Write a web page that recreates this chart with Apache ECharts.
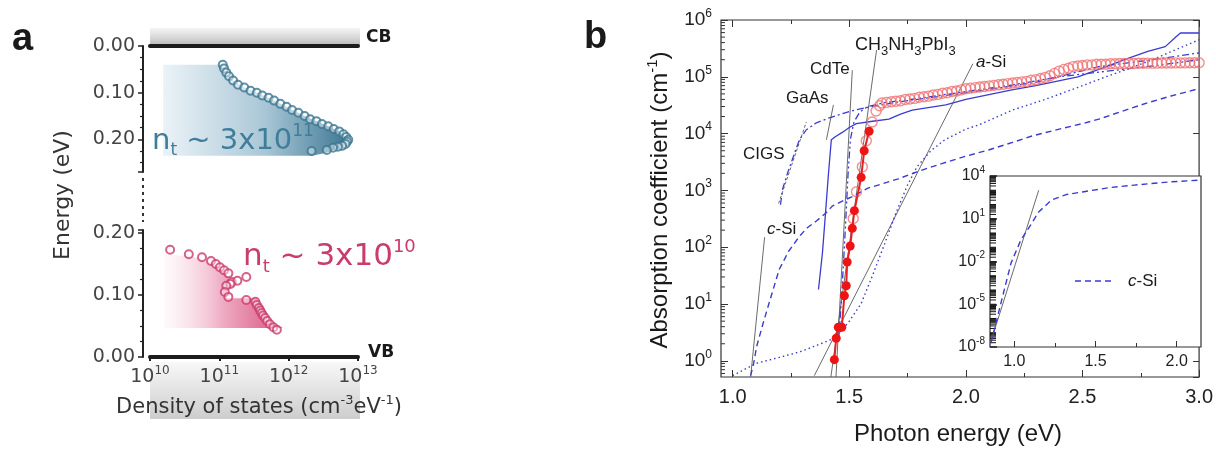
<!DOCTYPE html>
<html>
<head>
<meta charset="utf-8">
<script src="https://cdn.jsdelivr.net/npm/echarts@6/dist/echarts.min.js"></script>
<style>
  html, body { margin: 0; padding: 0; background: #fff; }
  #chart { width: 1216px; height: 450px; }
</style>
</head>
<body>
<div id="chart"></div>
<script>
// ---------- Panel a: trap density of states ----------
// [density of states (cm^-3 eV^-1), energy from band edge (eV)]
const electronTraps = [
  [1.12e11,0.040],[1.17e11,0.048],[1.26e11,0.057],[1.38e11,0.065],[1.58e11,0.074],[1.86e11,0.083],
  [2.29e11,0.089],[2.82e11,0.096],[3.47e11,0.100],[4.17e11,0.106],[5.13e11,0.111],[6.17e11,0.117],
  [7.59e11,0.124],[9.33e11,0.130],[1.12e12,0.137],[1.38e12,0.143],[1.70e12,0.150],[2.04e12,0.157],
  [2.51e12,0.161],[3.02e12,0.167],[3.72e12,0.172],[4.47e12,0.178],[5.37e12,0.183],[6.17e12,0.189],
  [6.76e12,0.195],[7.24e12,0.201],[6.92e12,0.205],[6.61e12,0.210],[5.89e12,0.214],[5.13e12,0.216],
  [4.37e12,0.218],[3.55e12,0.223],[2.14e12,0.225]
];
const electronShade = [
  [1.55e10,0.040],[1.12e11,0.040],[1.26e11,0.057],[1.58e11,0.074],[2.29e11,0.089],[3.47e11,0.100],
  [5.13e11,0.111],[7.59e11,0.124],[1.12e12,0.137],[1.70e12,0.150],[2.51e12,0.161],[3.72e12,0.172],
  [5.37e12,0.183],[6.76e12,0.195],[7.4e12,0.203],[6.6e12,0.212],[5.0e12,0.220],[3.6e12,0.228],
  [2.2e12,0.235],[1.55e10,0.235]
];
const holeTraps = [
  [1.95e10,0.173],[3.63e10,0.166],[5.62e10,0.161],[7.59e10,0.155],[8.91e10,0.150],[1.02e11,0.145],
  [1.17e11,0.140],[1.35e11,0.135],[1.51e11,0.121],[1.82e11,0.123],[2.45e11,0.129],[1.45e11,0.118],
  [1.26e11,0.115],[1.20e11,0.105],[1.35e11,0.097],[2.45e11,0.092],[3.31e11,0.089],[3.47e11,0.084],
  [3.72e11,0.079],[3.89e11,0.075],[4.07e11,0.071],[4.27e11,0.067],[4.57e11,0.063],[4.90e11,0.058],
  [5.37e11,0.053],[6.03e11,0.048],[6.76e11,0.044]
];
const holeShade = [
  [1.6e10,0.165],[3.6e10,0.163],[5.6e10,0.158],[8.9e10,0.148],[1.17e11,0.138],[1.35e11,0.128],
  [1.3e11,0.112],[1.3e11,0.095],[3.5e11,0.095],[4.0e11,0.075],[5.4e11,0.055],[8.3e11,0.047],
  [1.6e10,0.047]
];

// ---------- Panel b: absorption coefficient (cm^-1) vs photon energy (eV) ----------
const mapiEllipsometry = [
  [1.517,320],[1.531,950],[1.556,2600],[1.573,7500],[1.598,16000],[1.615,25000],[1.63,31000],
  [1.64,34700],[1.66,35500],[1.68,36300],[1.70,37200],[1.72,38000],[1.74,39800],[1.76,40700],
  [1.78,41700],[1.80,43600],[1.82,44700],[1.84,45700],[1.86,47900],[1.88,49000],[1.90,51300],
  [1.92,52500],[1.94,55000],[1.96,56200],[1.98,58900],[2.00,61700],[2.02,63100],[2.04,64600],
  [2.06,66100],[2.08,67600],[2.10,69200],[2.12,70800],[2.14,72400],[2.16,74100],[2.18,75900],
  [2.20,77600],[2.22,79400],[2.24,81300],[2.26,83200],[2.28,87100],[2.30,89100],[2.32,93300],
  [2.34,97700],[2.36,104700],[2.38,114800],[2.40,125900],[2.42,134900],[2.44,141300],[2.46,151400],
  [2.48,154900],[2.50,158500],[2.52,162200],[2.54,162200],[2.56,166000],[2.58,166000],[2.60,166000],
  [2.62,169800],[2.64,170000],[2.66,171000],[2.68,171000],[2.70,172000],[2.72,172000],[2.74,173000],
  [2.76,173000],[2.78,174000],[2.80,174000],[2.82,174000],[2.84,175000],[2.86,175000],[2.88,175000],
  [2.90,176000],[2.92,176000],[2.94,176000],[2.96,177000],[2.98,177000],[3.00,177000]
];
const mapiPDS = [
  [1.436,1.05],[1.444,2.5],[1.453,3.9],[1.468,3.9],[1.479,14],[1.487,21],[1.491,55],[1.504,105],
  [1.513,215],[1.522,440],[1.551,1700],[1.564,5000],[1.585,11000]
];
const gaAs = [
  [1.368,18],[1.385,80],[1.397,350],[1.41,1800],[1.423,7800],[1.44,8800],[1.47,10500],[1.50,12800],
  [1.53,15000],[1.60,16500],[1.67,18000],[1.72,22000],[1.77,26000],[1.914,32000],[2.0,40000],
  [2.197,59000],[2.3,70000],[2.48,100000],[2.6,150000],[2.68,200000],[2.78,280000],[2.855,340000],
  [2.9,500000],[2.92,590000],[3.0,590000]
];
const cdTe = [
  [1.455,2.5],[1.465,10],[1.475,50],[1.485,300],[1.495,2000],[1.505,8000],[1.52,16000],[1.545,24000],
  [1.58,30000],[1.65,35000],[1.8,42000],[2.0,55000],[2.2,72000],[2.4,100000],[2.6,125000],
  [2.8,155000],[3.0,200000]
];
const cigs = [
  [1.205,560],[1.214,1050],[1.235,2000],[1.256,3500],[1.286,7800],[1.316,11700],[1.359,15500],
  [1.415,19000],[1.5,24500],[1.585,29500],[1.714,36300],[1.9,46000],[2.1,60000],[2.3,80000],
  [2.57,151000],[2.8,200000],[3.0,263000]
];
const cSi = [
  [1.077,0.55],[1.09,0.9],[1.103,1.8],[1.13,4.5],[1.158,11],[1.18,22],[1.20,41],[1.24,85],[1.286,155],
  [1.32,220],[1.359,290],[1.40,400],[1.427,530],[1.47,650],[1.513,780],[1.58,1100],[1.64,1300],
  [1.71,1600],[1.80,2200],[1.90,3000],[2.00,4000],[2.10,5200],[2.20,7000],[2.28,9000],[2.40,12000],
  [2.50,15000],[2.57,18000],[2.66,24000],[2.78,35000],[2.88,46000],[3.0,62000]
];
const aSi = [
  [1.0,0.55],[1.1,0.9],[1.2,1.15],[1.29,1.45],[1.35,1.8],[1.43,2.45],[1.47,3.5],[1.5,5],[1.55,10],
  [1.6,32],[1.65,110],[1.7,400],[1.75,1250],[1.79,2600],[1.85,5000],[1.91,7800],[2.0,12000],
  [2.06,14500],[2.2,26000],[2.34,40000],[2.48,65000],[2.6,100000],[2.7,140000],[2.8,200000],
  [2.9,300000],[3.0,450000]
];
// exponential tail guides (thin grey lines)
const tailCSi  = [[1.077,0.52],[1.137,150]];
const tailASi  = [[1.35,0.55],[2.03,170000]];
const tailMapi = [[1.421,0.52],[1.617,295000]];
const tailCdTe = [[1.443,0.52],[1.513,130000]];
const tailGaAs = [[1.402,7800],[1.432,32000]];
const tailCigs = [[1.197,590],[1.316,16000]];
// inset: c-Si over a wider range
const cSiWide = [
  [0.856,1.9e-8],[0.92,1.6e-5],[0.98,8e-3],[1.04,0.32],[1.10,3.6],[1.15,30],[1.23,210],[1.32,500],
  [1.42,760],[1.58,1500],[1.74,2300],[1.95,3800],[2.15,5200]
];
const tailCSiWide = [[0.856,2.5e-8],[1.15,1000]];

const mainXMajor = [1.0, 1.5, 2.0, 2.5, 3.0];
const mainXMinor = [1.25, 1.75, 2.25, 2.75];
const insetXMajor = [1.0, 1.5, 2.0];
const insetXMinor = [1.25, 1.75];

const MAIN_X = [0.95, 3.0], MAIN_Y = [0.52, 1e6];
const INSET_X = [0.85, 2.15], INSET_Y = [1e-8, 1e4];

// log-axis minor tick values (2..9 per decade) and non-labelled decades
const mainMinorTicks = [];
for (let k = -1; k <= 5; k++) for (let m = 2; m <= 9; m++) {
  const v = m * Math.pow(10, k);
  if (v > MAIN_Y[0] && v < MAIN_Y[1]) mainMinorTicks.push(v);
}
const insetMinorTicks = [];
for (let k = -8; k <= 3; k++) for (let m = 1; m <= 9; m++) {
  const v = m * Math.pow(10, k);
  if (v > INSET_Y[0] && v < INSET_Y[1]) insetMinorTicks.push(v);
}

const BLUE = '#3b3bd0';
const GREY = '#5a5a5a';
const SANS = 'Liberation Sans';
const DV = 'DejaVu Sans';

function pow10(v) {
  const e = Math.round(Math.log10(v));
  return '{b|10}{s|' + e + '}';
}
function powRich(size, color, font) {
  return {
    b: { fontSize: size, fontFamily: font, color: color, lineHeight: size + 6 },
    s: { fontSize: Math.round(size * 0.62), fontFamily: font, color: color, verticalAlign: 'top' }
  };
}

const chart = echarts.init(document.getElementById('chart'), null, { renderer: 'canvas' });

function tickSeries(xi, yi, values, xAt, len, color) {
  return {
    type: 'custom', xAxisIndex: xi, yAxisIndex: yi, silent: true, clip: false, z: 5,
    data: values.map(v => [xAt, v]),
    renderItem: function (params, api) {
      const p = api.coord([api.value(0), api.value(1)]);
      return { type: 'line', shape: { x1: p[0], y1: p[1], x2: p[0] + len, y2: p[1] },
               style: { stroke: color, lineWidth: 1 } };
    }
  };
}
function shadeSeries(xi, yi, poly, stops) {
  return {
    type: 'custom', xAxisIndex: xi, yAxisIndex: yi, silent: true, z: 1,
    data: [0],
    renderItem: function (params, api) {
      return { type: 'polygon', shape: { points: poly.map(p => api.coord(p)) },
               style: { fill: new echarts.graphic.LinearGradient(0, 0, 1, 0, stops) } };
    }
  };
}
function curve(data, dash, width, color, z) {
  return { type: 'line', xAxisIndex: 2, yAxisIndex: 2, data: data, symbol: 'none', silent: true,
           z: z || 3, lineStyle: { color: color || BLUE, width: width || 1.3, type: dash || 'solid' } };
}

const labelA = { fontSize: 19, fontFamily: DV, color: '#444' };

const option = {
  animation: false,
  backgroundColor: '#fff',
  grid: [
    { left: 150, top: 46, width: 208, height: 126 },
    { left: 150, top: 230, width: 208, height: 127 },
    { left: 721, top: 20, width: 480, height: 357, show: true, borderColor: '#333', borderWidth: 1.2 },
    { left: 990, top: 176, width: 211, height: 171, show: true, backgroundColor: '#fff', borderColor: '#333', borderWidth: 1.2, z: 4 }
  ],
  xAxis: [
    { gridIndex: 0, type: 'log', min: 1e10, max: 1e13, position: 'top',
      axisLine: { lineStyle: { color: '#1c1c1c', width: 4, cap: 'round' } },
      axisTick: { show: false }, axisLabel: { show: false }, splitLine: { show: false } },
    { gridIndex: 1, type: 'log', min: 1e10, max: 1e13, position: 'bottom',
      axisLine: { lineStyle: { color: '#1c1c1c', width: 4, cap: 'round' } },
      axisTick: { show: true, length: 4, lineStyle: { color: '#1c1c1c', width: 2 } },
      axisLabel: { formatter: pow10, margin: 8, rich: powRich(19, '#444', DV) },
      splitLine: { show: false } },
    { gridIndex: 2, type: 'value', min: MAIN_X[0], max: MAIN_X[1], position: 'bottom',
      axisLine: { show: false },
      axisTick: { inside: true, length: 7, customValues: mainXMajor, lineStyle: { color: '#333' } },
      axisLabel: { customValues: mainXMajor, formatter: v => v.toFixed(1), margin: 10,
                   fontSize: 20, fontFamily: SANS, color: '#222' },
      splitLine: { show: false } },
    { gridIndex: 2, type: 'value', min: MAIN_X[0], max: MAIN_X[1], position: 'bottom',
      axisLine: { show: false },
      axisTick: { inside: true, length: 4, customValues: mainXMinor, lineStyle: { color: '#333' } },
      axisLabel: { show: false }, splitLine: { show: false } },
    { gridIndex: 2, type: 'value', min: MAIN_X[0], max: MAIN_X[1], position: 'top',
      axisLine: { show: false },
      axisTick: { inside: true, length: 7, customValues: mainXMajor, lineStyle: { color: '#333' } },
      axisLabel: { show: false }, splitLine: { show: false } },
    { gridIndex: 2, type: 'value', min: MAIN_X[0], max: MAIN_X[1], position: 'top',
      axisLine: { show: false },
      axisTick: { inside: true, length: 4, customValues: mainXMinor, lineStyle: { color: '#333' } },
      axisLabel: { show: false }, splitLine: { show: false } },
    { gridIndex: 3, type: 'value', min: INSET_X[0], max: INSET_X[1], position: 'bottom', z: 6,
      axisLine: { show: false },
      axisTick: { inside: true, length: 6, customValues: insetXMajor, lineStyle: { color: '#333' } },
      axisLabel: { customValues: insetXMajor, formatter: v => v.toFixed(1), margin: 7,
                   fontSize: 16, fontFamily: SANS, color: '#222' },
      splitLine: { show: false } },
    { gridIndex: 3, type: 'value', min: INSET_X[0], max: INSET_X[1], position: 'bottom', z: 6,
      axisLine: { show: false },
      axisTick: { inside: true, length: 4, customValues: insetXMinor, lineStyle: { color: '#333' } },
      axisLabel: { show: false }, splitLine: { show: false } }
  ],
  yAxis: [
    { gridIndex: 0, type: 'value', inverse: true, min: 0, max: 0.27, interval: 0.1, offset: 7,
      axisLine: { show: true, lineStyle: { color: '#222', width: 2 } },
      axisTick: { show: true, length: 5, lineStyle: { color: '#222', width: 1.5 } },
      minorTick: { show: true, splitNumber: 4, length: 3, lineStyle: { color: '#222', width: 1.2 } },
      axisLabel: Object.assign({ formatter: v => v.toFixed(2), margin: 8, showMaxLabel: false }, labelA),
      splitLine: { show: false } },
    { gridIndex: 1, type: 'value', min: 0, max: 0.205, interval: 0.1, offset: 7,
      axisLine: { show: true, lineStyle: { color: '#222', width: 2 } },
      axisTick: { show: true, length: 5, lineStyle: { color: '#222', width: 1.5 } },
      minorTick: { show: true, splitNumber: 4, length: 3, lineStyle: { color: '#222', width: 1.2 } },
      axisLabel: Object.assign({ formatter: v => v.toFixed(2), margin: 8, showMaxLabel: false }, labelA),
      splitLine: { show: false } },
    { gridIndex: 2, type: 'log', min: MAIN_Y[0], max: MAIN_Y[1], position: 'left',
      axisLine: { show: false },
      axisTick: { inside: true, length: 7, lineStyle: { color: '#333' } },
      axisLabel: { formatter: pow10, showMinLabel: false, margin: 9, rich: powRich(19, '#222', SANS) },
      splitLine: { show: false } },
    { gridIndex: 2, type: 'log', min: MAIN_Y[0], max: MAIN_Y[1], position: 'right',
      axisLine: { show: false },
      axisTick: { inside: true, length: 6, lineStyle: { color: '#333' } },
      axisLabel: { show: false }, splitLine: { show: false } },
    { gridIndex: 3, type: 'log', min: INSET_Y[0], max: INSET_Y[1], interval: 3, position: 'left', z: 6,
      axisLine: { show: false },
      axisTick: { inside: true, length: 7, lineStyle: { color: '#222', width: 1.5 } },
      axisLabel: { formatter: pow10, margin: 5, rich: powRich(16, '#222', SANS) },
      splitLine: { show: false } }
  ],
  series: [
    // panel a
    shadeSeries(0, 0, electronShade, [
      { offset: 0, color: 'rgba(232,241,246,0.9)' }, { offset: 0.55, color: '#a9c6d6' }, { offset: 1, color: '#3d7893' }]),
    { type: 'scatter', xAxisIndex: 0, yAxisIndex: 0, data: electronTraps, symbol: 'circle', symbolSize: 8, z: 3,
      itemStyle: { color: 'rgba(255,255,255,0.55)', borderColor: '#3a7690', borderWidth: 2 } },
    shadeSeries(1, 1, holeShade, [
      { offset: 0, color: 'rgba(250,225,235,0.2)' }, { offset: 0.5, color: '#eeaac2' }, { offset: 1, color: '#d9557f' }]),
    { type: 'scatter', xAxisIndex: 1, yAxisIndex: 1, data: holeTraps, symbol: 'circle', symbolSize: 8, z: 3,
      itemStyle: { color: 'rgba(255,255,255,0.55)', borderColor: '#cc3b6c', borderWidth: 2 } },

    // panel b main
    curve(tailCSi, 'solid', 0.9, GREY, 2),
    curve(tailASi, 'solid', 0.9, GREY, 2),
    curve(tailMapi, 'solid', 0.9, GREY, 2),
    curve(tailCdTe, 'solid', 0.9, GREY, 2),
    curve(tailGaAs, 'solid', 0.9, GREY, 2),
    curve(tailCigs, [3, 2], 0.9, GREY, 2),
    curve(cSi, [6, 4], 1.4),
    curve(aSi, [1.5, 3], 1.4),
    curve(cigs, [7, 3, 2, 3], 1.3),
    curve(cdTe, [7, 3, 2, 3, 2, 3], 1.3),
    curve(gaAs, 'solid', 1.3),
    { type: 'line', xAxisIndex: 2, yAxisIndex: 2, data: mapiPDS, symbol: 'circle', symbolSize: 9, z: 6,
      lineStyle: { color: '#e52222', width: 2 }, itemStyle: { color: '#ef1414' } },
    { type: 'scatter', xAxisIndex: 2, yAxisIndex: 2, data: mapiEllipsometry, symbol: 'circle', symbolSize: 10, z: 5,
      itemStyle: { color: 'rgba(255,255,255,0)', borderColor: '#f07272', borderWidth: 1.4 } },
    tickSeries(2, 2, mainMinorTicks, MAIN_X[0], 4, '#333'),

    // inset
    { type: 'line', xAxisIndex: 6, yAxisIndex: 4, data: tailCSiWide, symbol: 'none', z: 7,
      lineStyle: { color: GREY, width: 0.9 } },
    { type: 'line', xAxisIndex: 6, yAxisIndex: 4, data: cSiWide, symbol: 'none', z: 7,
      lineStyle: { color: BLUE, width: 1.4, type: [6, 4] } },
    tickSeries(6, 4, insetMinorTicks, INSET_X[0], 6, '#111')
  ],
  graphic: [
    // panel letters
    { type: 'text', x: 12, y: 40, style: { text: 'a', font: 'bold 38px ' + SANS, fill: '#1a1a1a', textVerticalAlign: 'middle' } },
    { type: 'text', x: 584, y: 38, style: { text: 'b', font: 'bold 38px ' + SANS, fill: '#1a1a1a', textVerticalAlign: 'middle' } },

    // conduction-band haze and valence-band label box
    { type: 'rect', z: -1, shape: { x: 150, y: 28, width: 210, height: 17 },
      style: { fill: new echarts.graphic.LinearGradient(0, 0, 0, 1, [
        { offset: 0, color: 'rgba(235,235,235,0.6)' }, { offset: 1, color: '#b9b9b9' }]) } },
    { type: 'rect', z: -1, shape: { x: 150, y: 362, width: 210, height: 57 },
      style: { fill: new echarts.graphic.LinearGradient(0, 0, 0, 1, [
        { offset: 0, color: '#f8f8f8' }, { offset: 1, color: '#cdcdcd' }]) } },
    { type: 'text', x: 366, y: 38, style: { text: 'CB', font: 'bold 17px ' + DV, fill: '#1a1a1a', textVerticalAlign: 'middle' } },
    { type: 'text', x: 368, y: 353, style: { text: 'VB', font: 'bold 17px ' + DV, fill: '#1a1a1a', textVerticalAlign: 'middle' } },

    // axis break
    { type: 'line', shape: { x1: 143, y1: 178, x2: 143, y2: 222 },
      style: { stroke: '#333', lineWidth: 2, lineDash: [3, 4] } },

    // trap density annotations
    { type: 'text', x: 152, y: 141, z: 10, style: {
        text: '{n|n}{t|t}{n| ~ 3x10}{p|11}', textVerticalAlign: 'middle',
        rich: {
          n: { fontSize: 29, fontFamily: DV, fill: '#3f7e9b', lineHeight: 36 },
          t: { fontSize: 17, fontFamily: DV, fill: '#3f7e9b', verticalAlign: 'bottom' },
          p: { fontSize: 17, fontFamily: DV, fill: '#3f7e9b', verticalAlign: 'top' }
        } } },
    { type: 'text', x: 243, y: 257, z: 10, style: {
        text: '{n|n}{t|t}{n| ~ 3x10}{p|10}', textVerticalAlign: 'middle',
        rich: {
          n: { fontSize: 31, fontFamily: DV, fill: '#c93c6c', lineHeight: 38 },
          t: { fontSize: 18, fontFamily: DV, fill: '#c93c6c', verticalAlign: 'bottom' },
          p: { fontSize: 18, fontFamily: DV, fill: '#c93c6c', verticalAlign: 'top' }
        } } },

    // panel a axis titles
    { type: 'text', x: 63, y: 195, rotation: Math.PI / 2, style: {
        text: 'Energy (eV)', font: '22px ' + DV, fill: '#333', textAlign: 'center', textVerticalAlign: 'middle' } },
    { type: 'text', x: 259, y: 408, style: {
        text: '{n|Density of states (cm}{p|-3}{n|eV}{p|-1}{n|)}', textAlign: 'center', textVerticalAlign: 'middle',
        rich: {
          n: { fontSize: 21, fontFamily: DV, fill: '#333', lineHeight: 28 },
          p: { fontSize: 13, fontFamily: DV, fill: '#333', verticalAlign: 'top' }
        } } },

    // panel b axis titles
    { type: 'text', x: 660, y: 200, rotation: Math.PI / 2, style: {
        text: '{n|Absorption coefficient (cm}{p|-1}{n|)}', textAlign: 'center', textVerticalAlign: 'middle',
        rich: {
          n: { fontSize: 24, fontFamily: SANS, fill: '#1a1a1a', lineHeight: 30 },
          p: { fontSize: 15, fontFamily: SANS, fill: '#1a1a1a', verticalAlign: 'top' }
        } } },
    { type: 'text', x: 958, y: 434, style: {
        text: 'Photon energy (eV)', font: '24px ' + SANS, fill: '#1a1a1a', textAlign: 'center', textVerticalAlign: 'middle' } },

    // material labels
    { type: 'text', x: 855, y: 45, z: 10, style: {
        text: '{t|CH}{s|3}{t|NH}{s|3}{t|PbI}{s|3}', textVerticalAlign: 'middle',
        rich: {
          t: { fontSize: 18, fontFamily: SANS, fill: '#1a1a1a', lineHeight: 26 },
          s: { fontSize: 13, fontFamily: SANS, fill: '#1a1a1a', verticalAlign: 'bottom' }
        } } },
    { type: 'text', x: 810, y: 69, z: 10, style: { text: 'CdTe', font: '17px ' + SANS, fill: '#1a1a1a', textVerticalAlign: 'middle' } },
    { type: 'text', x: 786, y: 98, z: 10, style: { text: 'GaAs', font: '17px ' + SANS, fill: '#1a1a1a', textVerticalAlign: 'middle' } },
    { type: 'text', x: 743, y: 154, z: 10, style: { text: 'CIGS', font: '17px ' + SANS, fill: '#1a1a1a', textVerticalAlign: 'middle' } },
    { type: 'text', x: 767, y: 229, z: 10, style: {
        text: '{i|c}{t|-Si}', textVerticalAlign: 'middle',
        rich: { i: { fontSize: 17, fontFamily: SANS, fontStyle: 'italic', fill: '#1a1a1a' },
                t: { fontSize: 17, fontFamily: SANS, fill: '#1a1a1a' } } } },
    { type: 'text', x: 976, y: 62, z: 10, style: {
        text: '{i|a}{t|-Si}', textVerticalAlign: 'middle',
        rich: { i: { fontSize: 17, fontFamily: SANS, fontStyle: 'italic', fill: '#1a1a1a' },
                t: { fontSize: 17, fontFamily: SANS, fill: '#1a1a1a' } } } },

    // inset legend
    { type: 'line', z: 10, shape: { x1: 1075, y1: 281, x2: 1115, y2: 281 },
      style: { stroke: BLUE, lineWidth: 1.4, lineDash: [6, 4] } },
    { type: 'text', x: 1128, y: 281, z: 10, style: {
        text: '{i|c}{t|-Si}', textVerticalAlign: 'middle',
        rich: { i: { fontSize: 17, fontFamily: SANS, fontStyle: 'italic', fill: '#1a1a1a' },
                t: { fontSize: 17, fontFamily: SANS, fill: '#1a1a1a' } } } }
  ]
};

chart.setOption(option);
</script>
</body>
</html>
